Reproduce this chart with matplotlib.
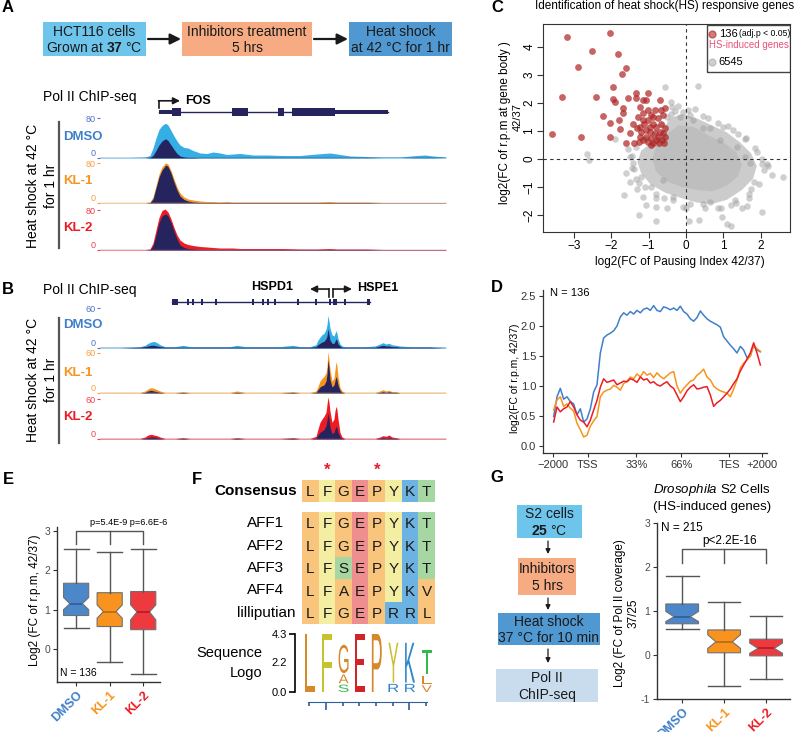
import numpy as np
import matplotlib.pyplot as plt
from matplotlib.patches import Rectangle, PathPatch, Polygon
from matplotlib.textpath import TextPath
from matplotlib.font_manager import FontProperties
from matplotlib.transforms import Affine2D
from matplotlib.lines import Line2D
from matplotlib.colors import to_rgb

plt.rcParams['font.family'] = ['Liberation Sans', 'DejaVu Sans']
plt.rcParams['mathtext.fontset'] = 'custom'
plt.rcParams['mathtext.rm'] = 'Liberation Sans'
plt.rcParams['mathtext.bf'] = 'Liberation Sans:bold'
plt.rcParams['mathtext.it'] = 'Liberation Sans:italic'

# ---------------- data ----------------
conditions = ['DMSO', 'KL-1', 'KL-2']
cond_colors = ['#3F7FCB', '#F7941D', '#ED1C24']
fill_colors = ['#35AEE6', '#F7941D', '#ED1C24']
NAVY = '#25245F'

flow_a = ['HCT116 cells\nGrown at $\\mathbf{37}$ °C', 'Inhibitors treatment\n5 hrs',
          'Heat shock\nat 42 °C for 1 hr']
flow_g = ['S2 cells\n$\\mathbf{25}$ °C', 'Inhibitors\n5 hrs', 'Heat shock\n37 °C for 10 min',
          'Pol II\nChIP-seq']
flow_colors = ['#6DC5EC', '#F6AB83', '#4F98D1', '#C9DCEE']

# FOS locus, Pol II signal (r.p.m), HS 42 °C
fos_pos = [100, 130, 145, 150, 153, 156, 159, 162, 165, 166, 168, 171, 174, 177, 180, 184, 188, 193, 200, 207,
           213, 220, 227, 233, 240, 253, 267, 283, 300, 317, 330, 337, 350, 367, 383, 400, 417, 425, 433, 446]
fos_dmso = [1, 1, 2, 5, 20, 40, 57, 65, 69, 69, 66, 55, 44, 34, 26, 21, 20, 15, 10, 9,
            12, 10, 7, 8, 9, 6, 6, 5, 5, 8, 10, 8, 4, 3, 2, 2, 5, 6, 4, 2]
fos_dmso_ctl = [0, 0, 0, 1, 5, 15, 26, 34, 38, 38, 35, 26, 17, 9, 4, 2, 1, 1, .5, .5,
                .5, .5, .5, .5, .5, .5, .5, .5, .5, .5, .5, .5, .5, .5, 0, 0, .5, .5, .5, 0]
fos_kl1 = [1, 1, 1, 2, 12, 35, 58, 72, 79, 80, 78, 65, 48, 32, 20, 12, 8, 6, 4, 3,
           3, 2, 3, 2, 2, 2, 2, 2, 2, 2, 3, 2, 2, 2, 1, 1, 1, 1, 1, 1]
fos_kl1_ctl = [0, 0, 0, 1, 8, 30, 52, 66, 74, 76, 73, 60, 42, 26, 14, 7, 4, 2, 1, 1,
               1, 1, 1, 1, 1, 1, 1, 1, 1, 1, 1, 1, 1, 1, .5, .5, .5, .5, .5, .5]
fos_kl2 = [1, 1, 1, 2, 14, 40, 65, 79, 82, 80, 76, 62, 45, 30, 20, 14, 11, 9, 7, 6,
           5, 4, 4, 4, 3, 3, 3, 3, 2, 2, 3, 2, 2, 2, 1, 1, 1, 1, 1, 1]
fos_kl2_ctl = [0, 0, 0, 1, 8, 30, 55, 68, 72, 72, 68, 55, 38, 22, 10, 5, 3, 2, 1, 1,
               1, 1, 1, 1, 1, 1, 1, 1, 1, 1, 1, 1, 1, 1, .5, .5, .5, .5, .5, .5]
fos_utr = [(159, 172), (335, 388)]
fos_exons = [(172, 181), (232, 248), (278, 284), (292, 335)]

# HSPD1 / HSPE1 locus
hsp_pos = [100, 120, 140, 145, 148, 151, 154, 157, 160, 165, 175, 183, 190, 210, 230, 237, 245, 260, 280, 293,
           300, 310, 316, 318, 320, 322, 324, 326, 327, 328, 329, 330, 332, 334, 335, 336, 337, 338, 340, 342,
           345, 355, 365, 375, 380, 383, 386, 389, 392, 396, 400, 410, 420, 430, 446]
hsp_dmso = [1, 1, 2, 4, 7, 9, 10, 8, 5, 2, 2, 4, 2, 2, 2, 4, 2, 2, 2, 4,
            2, 2, 5, 12, 16, 20, 22, 28, 35, 49, 40, 30, 20, 18, 22, 26, 22, 14, 6, 3,
            2, 2, 2, 3, 6, 8, 6, 7, 5, 4, 3, 2, 2, 2, 1]
hsp_dmso_ctl = [0, 0, 1, 2, 3, 4, 4, 3, 2, 1, 1, 1, 1, 1, 1, 1, 1, 1, 1, 1,
                1, 1, 2, 5, 7, 9, 10, 14, 18, 29, 20, 12, 7, 7, 10, 14, 11, 6, 3, 1,
                1, 1, 1, 1, 3, 4, 3, 3, 2, 2, 1, 1, 1, 1, 0]
hsp_kl1 = [1, 1, 1, 3, 6, 8, 7, 5, 3, 1, 1, 2, 1, 1, 1, 3, 1, 1, 1, 2,
           1, 1, 3, 10, 18, 22, 25, 30, 40, 62, 50, 35, 18, 22, 35, 47, 40, 25, 8, 3,
           1, 1, 1, 1, 3, 5, 3, 4, 2, 2, 1, 1, 1, 1, 1]
hsp_kl1_ctl = [0, 0, 0, 1, 3, 4, 3, 2, 1, 0, 0, 1, 0, 0, 0, 1, 0, 0, 0, 1,
               0, 0, 1, 5, 9, 11, 12, 18, 28, 50, 38, 20, 9, 12, 18, 25, 20, 12, 4, 1,
               0, 0, 0, 0, 1, 2, 1, 2, 1, 1, 0, 0, 0, 0, 0]
hsp_kl2 = [1, 1, 1, 3, 6, 7, 6, 5, 3, 1, 1, 2, 1, 1, 1, 2, 1, 1, 1, 2,
           1, 1, 4, 15, 25, 30, 34, 40, 52, 63, 55, 42, 25, 30, 42, 49, 44, 30, 10, 3,
           1, 1, 1, 1, 3, 5, 4, 6, 3, 2, 1, 1, 1, 1, 1]
hsp_kl2_ctl = [0, 0, 0, 1, 2, 3, 3, 2, 1, 0, 0, 1, 0, 0, 0, 1, 0, 0, 0, 1,
               0, 0, 1, 6, 10, 12, 14, 20, 28, 39, 30, 18, 8, 10, 15, 19, 16, 10, 3, 1,
               0, 0, 0, 0, 1, 2, 1, 2, 1, 1, 0, 0, 0, 0, 0]
hsp_exons = [(172, 178), (187, 189), (192, 194), (201, 203), (215, 217), (252, 254), (262, 264), (267, 269),
             (274, 276), (297, 299), (315, 317), (329, 331), (333, 337), (344, 346), (367, 370)]

# C: scatter, HS-induced (red) and other genes (grey)
hs_x = [-3.18, -2.03, -2.53, -1.81, -2.88, -1.60, -1.72, -1.95, -3.31, -2.40, -1.96, -1.90, -1.56, -1.33,
        -1.02, -2.22, -2.04, -1.78, -1.69, -1.68, -1.77, -3.59, -2.82, -2.04, -1.60, -1.49, -1.38, -1.32,
        -1.29, -1.24, -1.35, -1.15, -1.06, -1.02, -1.15, -0.93, -0.84, -0.70, -0.66, -0.61, -0.57, -1.24,
        -1.11, -1.02, -0.88, -0.79, -0.66, -0.97, -0.84, -0.70, -0.61, -1.08, -0.93, -0.79, -0.63, -1.02,
        -0.87, -0.72, -0.59, -1.15, -1.24, -1.20, -0.97, -0.75, -0.88, -1.15, -1.06, -0.57, -0.57, -0.75,
        -0.93, -1.26, -1.42]
hs_y = [4.35, 4.51, 3.87, 3.74, 3.27, 3.26, 3.04, 2.56, 2.23, 2.20, 2.13, 2.05, 2.19, 2.37,
        2.35, 1.54, 1.30, 1.39, 1.81, 1.63, 1.06, 0.89, 0.80, 0.80, 0.56, 0.94, 0.56, 1.10,
        1.51, 1.87, 2.17, 2.11, 2.11, 1.75, 1.63, 1.57, 1.75, 2.11, 1.75, 1.57, 1.81, 1.15,
        1.27, 1.39, 1.27, 1.15, 1.25, 0.98, 0.92, 0.98, 0.92, 0.80, 0.74, 0.68, 0.68, 0.62,
        0.58, 0.56, 0.58, 0.68, 0.80, 0.98, 1.15, 1.45, 1.51, 1.39, 1.04, 1.10, 0.80, 0.80,
        0.50, 0.62, 1.27]
bg_x = [-0.55, 0.32, -0.39, -0.09, 0.20, 0.47, 0.65, 1.12, 1.59, 1.91, 2.18, 2.59, 2.03, 1.68, 1.50,
        1.64, 0.96, 1.10, 1.21, 0.36, 0.09, -0.34, -0.81, -1.26, -1.06, -0.79, -1.15, -1.32, -1.51,
        -1.65, -1.38, -1.51, -2.64, -2.59, -1.89, 0.65, 0.45, 0.87, 1.32, 1.82, 1.73, 2.05, 1.59, 1.37,
        0.92, -0.36, -0.52, -0.16, 0.11, -0.79, -0.52, -0.07, -1.42, -1.20, -0.93, -0.61,
        -0.65, -0.30, 0.05, 0.45, 0.85, 1.25, 1.60, 1.85, 2.05, 2.10, 1.95, 1.70, 1.35, 0.95,
        0.50, 0.10, -0.35, -0.80, -1.10, -1.35, -1.45, -1.45, -1.35, -1.10, -0.85, -0.20, 0.60, 1.40,
        2.20, 1.20, -0.60, -1.60, -1.55, 0.25, 1.00, 1.75, 0.00, -1.25, 2.30, -0.40]
bg_y = [2.56, 2.61, 2.05, 1.69, 1.39, 1.12, 1.10, 1.18, 0.70, 0.24, -0.19, -0.65, -1.90, -1.38, -1.76,
        -1.68, -2.06, -2.30, -2.37, -2.18, -2.20, -1.35, -2.21, -1.98, -1.64, -1.40, -1.35, -1.05, -0.81,
        -1.29, -0.37, 0.08, 0.18, -0.04, 0.71, -1.52, -1.61, -1.76, -1.46, -0.81, -0.15, -0.19, 0.08, 0.44,
        0.68, 1.87, 1.51, 1.51, 1.57, -1.70, -1.76, -1.70, -0.15, -0.63, -0.99, -0.75,
        1.20, 1.70, 1.75, 1.55, 1.30, 1.05, 0.75, 0.40, 0.00, -0.40, -0.90, -1.25, -1.55, -1.75,
        -1.75, -1.60, -1.45, -1.25, -1.00, -0.70, -0.30, 0.10, 0.45, 0.70, 0.85, 1.90, 1.45, 0.90,
        -0.25, -1.65, -1.40, -0.50, 0.35, 1.80, 1.15, -1.05, -1.75, -0.85, -0.55, 1.60]
# dense centre of the cloud: outer and inner density contours
cloud_outer_x = [-0.6, -0.45, -0.1, 0.3, 0.7, 1.1, 1.45, 1.75, 1.9, 1.8, 1.5, 1.1, 0.7, 0.3, -0.1, -0.55,
                 -0.95, -1.2, -1.3, -1.2, -0.95]
cloud_outer_y = [1.0, 1.45, 1.6, 1.45, 1.2, 0.95, 0.6, 0.2, -0.25, -0.7, -1.1, -1.45, -1.6, -1.55, -1.4,
                 -1.2, -0.9, -0.5, -0.1, 0.3, 0.55]
cloud_inner_x = [-0.5, -0.2, 0.2, 0.6, 1.0, 1.35, 1.5, 1.4, 1.1, 0.7, 0.3, -0.1, -0.5, -0.8, -0.9, -0.8]
cloud_inner_y = [0.9, 1.2, 1.15, 0.85, 0.6, 0.25, -0.2, -0.6, -0.95, -1.15, -1.1, -1.0, -0.8, -0.45, 0.0,
                 0.45]

# D: metagene profile of log2 FC, bins from -2000 to +2000
prof_x = np.arange(460, 1090, 10)
prof_dmso = [.49, .82, .96, .78, .82, .74, .70, .52, .62, .40, .45, .62, .90, 1.02, 1.55, 1.80, 1.85, 1.88,
             1.92, 2.00, 2.15, 2.22, 2.18, 2.24, 2.20, 2.26, 2.22, 2.28, 2.30, 2.26, 2.34, 2.26, 2.24, 2.32,
             2.30, 2.27, 2.30, 2.26, 2.33, 2.24, 2.20, 2.12, 2.08, 2.14, 2.25, 2.18, 2.12, 2.08, 2.05, 2.02,
             1.98, 1.82, 1.75, 1.68, 1.62, 1.55, 1.66, 1.60, 1.47, 1.50, 1.68, 1.60, 1.57]
prof_kl1 = [.60, .77, .82, .66, .70, .63, .58, .38, .27, .15, .18, .33, .42, .49, .82, .90, .93, .95,
            1.01, .98, .93, 1.04, 1.08, 1.15, 1.12, 1.20, 1.15, 1.24, 1.18, 1.21, 1.14, 1.22, 1.16, 1.12,
            1.17, 1.22, 1.24, 1.00, .88, .96, 1.02, 1.08, 1.10, 1.18, 1.22, 1.28, 1.15, 1.10, 1.00, .95,
            .92, .90, .88, .82, .95, 1.10, 1.30, 1.38, 1.43, 1.50, 1.68, 1.62, 1.58]
prof_kl2 = [.40, .65, .57, .62, .65, .74, .65, .52, .43, .40, .32, .43, .60, .76, .98, 1.12, 1.06, 1.08,
            1.10, 1.02, 1.05, 1.08, 1.07, 1.12, 1.10, 1.06, 1.15, 1.10, 1.12, 1.05, 1.07, 1.02, 1.00, 1.04,
            1.07, 1.00, .96, .85, .74, .82, .92, .98, 1.02, .95, .96, .98, .99, .85, .66, .72,
            .76, .82, .88, .95, 1.04, 1.12, 1.25, 1.35, 1.45, 1.55, 1.72, 1.55, 1.35]
prof_ticks = [458, 562, 708, 843, 987, 1085]
prof_labels = ['\u22122000', 'TSS', '33%', '66%', 'TES', '+2000']

# E: HCT116 box stats
e_lo = [0.53, -0.33, -0.63]
e_q1 = [0.85, 0.57, 0.49]
e_med = [1.15, 0.95, 0.94]
e_q3 = [1.67, 1.43, 1.46]
e_hi = [2.54, 2.47, 2.55]
e_cilo = [1.00, 0.78, 0.74]
e_cihi = [1.31, 1.12, 1.12]

# G: Drosophila S2 box stats
g_lo = [0.58, -0.71, -0.54]
g_q1 = [0.71, 0.05, -0.02]
g_med = [0.87, 0.30, 0.15]
g_q3 = [1.16, 0.57, 0.36]
g_hi = [1.80, 1.21, 0.89]
g_cilo = [0.76, 0.15, 0.04]
g_cihi = [0.99, 0.46, 0.27]

# F: alignment
consensus = 'LFGEPYKT'
seq_names = ['AFF1', 'AFF2', 'AFF3', 'AFF4', 'lilliputian']
seqs = ['LFGEPYKT', 'LFGEPYKT', 'LFSEPYKT', 'LFAEPYKV', 'LFGEPRRL']
starred = [1, 4]
# sequence logo: letters stacked bottom to top, heights in bits
logo_cols = [[('L', 4.3)], [('F', 4.3)], [('S', 0.55), ('A', 0.65), ('G', 2.1)], [('E', 4.3)],
             [('P', 4.3)], [('R', 0.6), ('Y', 2.95)], [('R', 0.6), ('K', 2.95)],
             [('V', 0.5), ('L', 0.6), ('T', 1.8)]]
band_colors = {'L': '#F9C57C', 'G': '#F9C57C', 'P': '#F9C57C', 'A': '#F9C57C', 'V': '#F9C57C',
               'F': '#F4EEA2', 'Y': '#F4EEA2', 'E': '#EE8E8E', 'K': '#6CB2E2', 'R': '#6CB2E2',
               'T': '#A6D6A2', 'S': '#A6D6A2'}
logo_colors = {'L': '#D6892B', 'G': '#D6892B', 'P': '#D6892B', 'A': '#D6892B', 'V': '#D6892B',
               'F': '#C8C22E', 'Y': '#C8C22E', 'E': '#D2232A', 'K': '#2E88C9', 'R': '#2E88C9',
               'T': '#35B84C', 'S': '#35B84C'}

# ---------------- figure ----------------
W, H = 800, 732
fig = plt.figure(figsize=(W / 100, H / 100), dpi=100)
canvas = fig.add_axes([0, 0, 1, 1])
canvas.set_xlim(0, W)
canvas.set_ylim(H, 0)
canvas.axis('off')


def px_axes(x0, y0, x1, y1):
    return fig.add_axes([x0 / W, 1 - y1 / H, (x1 - x0) / W, (y1 - y0) / H])


def flow_box(box, text, color):
    x0, y0, x1, y1 = box
    canvas.add_patch(Rectangle((x0, y0), x1 - x0, y1 - y0, facecolor=color, edgecolor='none'))
    canvas.text((x0 + x1) / 2, (y0 + y1) / 2 + 1, text, ha='center', va='center', fontsize=10,
                color='#1a1a1a', linespacing=1.2)


for lab, x, y in [('A', 8, 8), ('B', 8, 290), ('C', 497, 8), ('D', 497, 288),
                  ('E', 8, 480), ('F', 197, 480), ('G', 497, 478)]:
    canvas.text(x, y, lab, fontsize=12, fontweight='bold', ha='center', va='center')

# ---- A workflow ----
boxes_a = [(43, 22, 146, 56), (182, 22, 312, 56), (349, 22, 452, 56)]
for b, t, c in zip(boxes_a, flow_a, flow_colors):
    flow_box(b, t, c)
for xa, xb in [(148, 181), (314, 348)]:
    canvas.annotate('', xy=(xb, 39), xytext=(xa, 39),
                    arrowprops=dict(arrowstyle='-|>', color='#1a1a1a', lw=1.6, mutation_scale=16,
                                    shrinkA=0, shrinkB=0))


def track(y0, y1, pos, sig, ctl, color, ymax, tick_color, base_color):
    ax = px_axes(100, y0, 446, y1)
    ax.patch.set_alpha(0)
    ax.fill_between(pos, 0, sig, color=color, lw=0, clip_on=False)
    ax.fill_between(pos, 0, ctl, color=NAVY, lw=0, clip_on=False)
    ax.axhline(0, color=base_color, lw=1.0)
    ax.set_xlim(100, 446)
    ax.set_ylim(0, ymax)
    for s in ax.spines.values():
        s.set_visible(False)
    ax.set_xticks([])
    ax.set_yticks([0, ymax])
    ax.set_yticklabels(['0', str(ymax)])
    ax.tick_params(axis='y', length=2.5, width=0.8, color=tick_color, labelcolor=tick_color,
                   labelsize=6.5, pad=1)
    lo_lab, hi_lab = ax.get_yticklabels()
    lo_lab.set_va('bottom')
    hi_lab.set_va('center_baseline')
    return ax


tick_cols = ['#4F72C4', '#F7A040', '#F04050']
base_cols = [NAVY, '#A9A9C8', '#8E6FA8']


def track_block(ys, pos, sigs, ctls, ymax, label_ys, bar, rot_y):
    for (y0, y1), sig, ctl, fc, tc, bc in zip(ys, sigs, ctls, fill_colors, tick_cols, base_cols):
        track(y0, y1, pos, sig, ctl, fc, ymax, tc, bc)
    for name, ly, cc in zip(conditions, label_ys, cond_colors):
        canvas.text(63, ly, name, color=cc, fontsize=9.5, fontweight='bold', va='center')
    canvas.plot([59, 59], bar, color='#555555', lw=1.6)
    canvas.text(42, rot_y, 'Heat shock at 42 °C\nfor 1 hr', rotation=90, ha='center', va='center',
                fontsize=10, linespacing=1.45, multialignment='center')


canvas.text(43, 97, 'Pol II ChIP-seq', fontsize=10, va='center')
track_block([(118, 158), (163, 203), (210, 250)], fos_pos,
            [fos_dmso, fos_kl1, fos_kl2], [fos_dmso_ctl, fos_kl1_ctl, fos_kl2_ctl], 80,
            [137, 181, 228], [122, 248], 186)

ga = px_axes(100, 100, 446, 124)
ga.set_xlim(100, 446)
ga.set_ylim(-1.5, 1.5)
ga.axis('off')
ga.plot([159, 388], [0, 0], color=NAVY, lw=1)
for s, e in fos_utr:
    ga.add_patch(Rectangle((s, -0.23), e - s, 0.46, color=NAVY, lw=0))
for s, e in fos_exons:
    ga.add_patch(Rectangle((s, -0.45), e - s, 0.9, color=NAVY, lw=0))
ga.plot([159, 159], [0.5, 1.4], color='#1a1a1a', lw=1.2, clip_on=False)
ga.annotate('', xy=(180, 1.4), xytext=(158.5, 1.4), annotation_clip=False,
            arrowprops=dict(arrowstyle='-|>', color='#1a1a1a', lw=1.2, mutation_scale=10,
                            shrinkA=0, shrinkB=0))
ga.text(185, 1.4, 'FOS', fontsize=9, fontweight='bold', va='center', clip_on=False)

# ---- B ----
canvas.text(43, 290, 'Pol II ChIP-seq', fontsize=10, va='center')
track_block([(308, 348), (353, 393), (399, 439)], hsp_pos,
            [hsp_dmso, hsp_kl1, hsp_kl2], [hsp_dmso_ctl, hsp_kl1_ctl, hsp_kl2_ctl], 60,
            [325, 373, 417], [318, 443], 380)

gb = px_axes(100, 290, 446, 314)
gb.set_xlim(100, 446)
gb.set_ylim(-1.5, 1.5)
gb.axis('off')
gb.plot([172, 370], [0, 0], color=NAVY, lw=1)
for s, e in hsp_exons:
    gb.add_patch(Rectangle((s, -0.42), e - s, 0.84, color=NAVY, lw=0))
for x0, x1 in [(329, 310), (333, 352)]:
    gb.plot([x0, x0], [0.6, 1.62], color='#1a1a1a', lw=1.2, clip_on=False)
    gb.annotate('', xy=(x1, 1.62), xytext=(x0, 1.62), annotation_clip=False,
                arrowprops=dict(arrowstyle='-|>', color='#1a1a1a', lw=1.2, mutation_scale=10,
                                shrinkA=0, shrinkB=0))
gb.text(272, 1.9, 'HSPD1', fontsize=9, fontweight='bold', ha='center', va='center', clip_on=False)
gb.text(357, 1.75, 'HSPE1', fontsize=9, fontweight='bold', ha='left', va='center', clip_on=False)

# ---- C ----
canvas.text(535, 6, 'Identification of heat shock(HS) responsive genes', fontsize=8.5, va='center')
axc = px_axes(543, 24, 790, 232)
axc.add_patch(Polygon(np.column_stack([cloud_outer_x, cloud_outer_y]), closed=True,
                      facecolor='#CCCCCC', edgecolor='none', zorder=1))
axc.add_patch(Polygon(np.column_stack([cloud_inner_x, cloud_inner_y]), closed=True,
                      facecolor='#BEBEBE', edgecolor='none', zorder=1))
axc.scatter(bg_x, bg_y, s=22, color='#A0A0A0', alpha=0.5, lw=0, zorder=2)
axc.scatter(hs_x, hs_y, s=24, color='#AF2323', alpha=0.7, lw=0, zorder=3)
axc.axvline(0, color='#333333', lw=0.8, ls=(0, (3, 3)), zorder=4)
axc.axhline(0, color='#333333', lw=0.8, ls=(0, (3, 3)), zorder=4)
axc.set_xlim(-3.83, 2.79)
axc.set_ylim(-2.6, 4.82)
axc.set_xticks(range(-3, 3))
axc.set_yticks(range(-2, 5))
axc.tick_params(direction='out', length=4, width=0.8, labelsize=8.5, color='#333333', pad=1.5)
for lab in axc.get_yticklabels():
    lab.set_rotation(90)
    lab.set_va('center')
for s in axc.spines.values():
    s.set_linewidth(0.8)
    s.set_color('#333333')
canvas.text(680, 262, 'log2(FC of Pausing Index 42/37)', fontsize=8.5, ha='center', va='center')
canvas.text(505, 123, 'log2(FC of r.p.m at gene body )', fontsize=8.5, ha='center', va='center',
            rotation=90)
canvas.text(518, 117, '42/37', fontsize=8, ha='center', va='center', rotation=90)
tr = axc.transAxes
axc.add_patch(Rectangle((0.664, 0.77), 0.336, 0.225, transform=tr, facecolor='white',
                        edgecolor='#444444', lw=1, zorder=5))
axc.add_line(Line2D([0.684], [0.952], transform=tr, marker='o', ms=5, color='#AF2323', alpha=0.6,
                    ls='none', zorder=6))
axc.add_line(Line2D([0.684], [0.817], transform=tr, marker='o', ms=5, color='#A0A0A0', alpha=0.5,
                    ls='none', zorder=6))
axc.text(0.712, 0.952, '136', transform=tr, fontsize=8, va='center', zorder=6)
axc.text(0.795, 0.952, '(adj.p < 0.05)', transform=tr, fontsize=6.2, va='center', zorder=6)
axc.text(0.674, 0.90, 'HS-induced genes', transform=tr, fontsize=7, color='#E8537A', va='center',
         zorder=6)
axc.text(0.712, 0.817, '6545', transform=tr, fontsize=8, va='center', zorder=6)

# ---- D ----
axd = px_axes(543, 290, 767, 453)
for prof, c in zip([prof_dmso, prof_kl1, prof_kl2], cond_colors):
    axd.plot(prof_x, prof, color=c, lw=1.1)
axd.set_xlim(428, 1100)
axd.set_ylim(-0.117, 2.6)
axd.set_xticks(prof_ticks)
axd.set_xticklabels(prof_labels)
axd.set_yticks([0, 0.5, 1.0, 1.5, 2.0, 2.5])
axd.set_yticklabels(['0.0', '0.5', '1.0', '1.5', '2.0', '2.5'])
for s in ['top', 'right']:
    axd.spines[s].set_visible(False)
for s in ['left', 'bottom']:
    axd.spines[s].set_color('#333333')
    axd.spines[s].set_linewidth(0.9)
axd.tick_params(labelsize=8, length=3, color='#333333', labelcolor='#333333', pad=2)
axd.text(450, 2.55, 'N = 136', fontsize=8, va='center')
canvas.text(515, 378, 'log2(FC of r.p.m, 42/37)', fontsize=7.5, rotation=90, ha='center', va='center')


# ---- box plots (E, G) ----
def box_panel(ax, lo, q1, med, q3, hi, cilo, cihi, width):
    stats = []
    for i in range(3):
        stats.append(dict(whislo=lo[i], q1=q1[i], med=med[i], q3=q3[i], whishi=hi[i],
                          cilo=cilo[i], cihi=cihi[i], fliers=[]))
    b = ax.bxp(stats, positions=[1, 2, 3], widths=width, capwidths=width, shownotches=True,
               patch_artist=True, showfliers=False, manage_ticks=False,
               boxprops=dict(edgecolor='#707070', linewidth=0.8),
               whiskerprops=dict(color='#555555', linewidth=1),
               capprops=dict(color='#555555', linewidth=1))
    for patch, c in zip(b['boxes'], ['#4B87C9', '#F7931E', '#EE3A3F']):
        patch.set_facecolor(c)
    for m, c in zip(b['medians'], ['#2F5E9A', '#B86A12', '#A82126']):
        m.set_color(c)
        m.set_linewidth(1.2)
    for s in ['top', 'right']:
        ax.spines[s].set_visible(False)
    for s in ['left', 'bottom']:
        ax.spines[s].set_color('#333333')
        ax.spines[s].set_linewidth(1)
    ax.set_xticks([1, 2, 3])
    ax.set_xticklabels(conditions, rotation=45, ha='right', rotation_mode='anchor',
                       fontweight='bold', fontsize=9)
    for lab, c in zip(ax.get_xticklabels(), cond_colors):
        lab.set_color(c)
    ax.tick_params(axis='y', labelsize=7.5, labelcolor='#4D4D4D', color='#333333', length=3, pad=2)
    ax.tick_params(axis='x', color='#333333', length=3, pad=2)


axe = px_axes(57, 527, 160, 682)
box_panel(axe, e_lo, e_q1, e_med, e_q3, e_hi, e_cilo, e_cihi, 0.75)
axe.set_xlim(0.43, 3.5)
axe.set_ylim(-0.84, 3.1)
axe.set_yticks([0, 1, 2, 3])
axe.plot([1, 1, 3, 3], [2.67, 3.0, 3.0, 2.67], color='#555555', lw=1, clip_on=False)
axe.plot([2, 2], [3.0, 2.67], color='#555555', lw=1, clip_on=False)
axe.text(2.55, 3.22, 'p=5.4E-9 p=6.6E-6', fontsize=6.6, ha='center', va='center', clip_on=False)
axe.text(0.03, 0.058, 'N = 136', transform=axe.transAxes, fontsize=7.5, va='center')
canvas.text(35, 600, 'Log2 (FC of r.p.m, 42/37)', fontsize=8.5, rotation=90, ha='center', va='center')

axg = px_axes(657, 523, 790, 699)
box_panel(axg, g_lo, g_q1, g_med, g_q3, g_hi, g_cilo, g_cihi, 0.78)
axg.set_xlim(0.4, 3.57)
axg.set_ylim(-1, 3.0)
axg.set_yticks([-1, 0, 1, 2, 3])
axg.set_yticklabels(['-1', '0', '1', '2', '3'])
axg.plot([1, 1, 3, 3], [2.09, 2.41, 2.41, 2.09], color='#555555', lw=1, clip_on=False)
axg.plot([2, 2], [2.41, 2.09], color='#555555', lw=1, clip_on=False)
axg.text(2.14, 2.58, 'p<2.2E-16', fontsize=8.5, ha='center', va='center')
axg.text(0.03, 0.97, 'N = 215', transform=axg.transAxes, fontsize=8.5, va='center')
canvas.text(620, 613, 'Log2 (FC of Pol II coverage)', fontsize=8.5, rotation=90, ha='center',
            va='center')
canvas.text(634, 613, '37/25', fontsize=8.5, rotation=90, ha='center', va='center')
canvas.text(712, 490, '$\\mathit{Drosophila}$ S2 Cells', fontsize=9.5, ha='center', va='center')
canvas.text(712, 507, '(HS-induced genes)', fontsize=9.5, ha='center', va='center')

# ---- G workflow ----
boxes_g = [(517, 505, 582, 538), (518, 558, 576, 595), (498, 613, 600, 645), (496, 669, 598, 702)]
for b, t, c in zip(boxes_g, flow_g, flow_colors):
    flow_box(b, t, c)
for ya, yb in [(541, 554), (598, 610), (649, 663)]:
    canvas.annotate('', xy=(548, yb), xytext=(548, ya),
                    arrowprops=dict(arrowstyle='-|>', color='#1a1a1a', lw=0.9, mutation_scale=7,
                                    shrinkA=0, shrinkB=0))

# ---- F alignment ----
def residue_rgb(rows):
    return np.array([[to_rgb(band_colors[ch]) for ch in r] for r in rows])


axf1 = px_axes(302, 480, 435, 502)
axf1.imshow(residue_rgb([consensus]), extent=(0, 8, 1, 0), aspect='auto', interpolation='nearest')
axf1.axis('off')
for j, ch in enumerate(consensus):
    axf1.text(j + 0.5, 0.55, ch, ha='center', va='center', fontsize=11, color='#1a1a1a')
for j in starred:
    axf1.text(j + 0.5, -0.45, '*', ha='center', va='center', fontsize=12, color='#E0202A',
              fontweight='bold', clip_on=False)
canvas.text(297, 491, 'Consensus', fontsize=11, fontweight='bold', ha='right', va='center')

axf2 = px_axes(302, 512, 435, 624)
axf2.imshow(residue_rgb(seqs), extent=(0, 8, len(seqs), 0), aspect='auto', interpolation='nearest')
axf2.axis('off')
for i, s in enumerate(seqs):
    for j, ch in enumerate(s):
        axf2.text(j + 0.5, i + 0.55, ch, ha='center', va='center', fontsize=11, color='#1a1a1a')
    canvas.text(266, 512 + 22.4 * (i + 0.5), seq_names[i], fontsize=11, ha='center', va='center')

# sequence logo
axl = px_axes(302, 634, 435, 692)
axl.set_xlim(0, 8)
axl.set_ylim(0, 4.3)
logo_font = FontProperties(family='Liberation Sans')
for j, col in enumerate(logo_cols):
    base = 0.0
    for ch, h in col:
        tp = TextPath((0, 0), ch, size=1, prop=logo_font)
        bb = tp.get_extents()
        t = Affine2D().translate(-bb.x0, -bb.y0).scale(0.6 / bb.width, h / bb.height) \
            .translate(j + 0.2, base)
        axl.add_patch(PathPatch(t.transform_path(tp), facecolor=logo_colors[ch], lw=0,
                                clip_on=False))
        base += h + 0.1
for s in ['top', 'right']:
    axl.spines[s].set_visible(False)
axl.spines['left'].set_position(('outward', 5))
axl.spines['left'].set_linewidth(1.2)
axl.set_yticks([0, 2.2, 4.3])
axl.set_yticklabels(['0.0', '2.2', '4.3'])
axl.tick_params(axis='y', length=4, width=1.2, labelsize=8, pad=2)
axl.yaxis.get_major_ticks()[1].tick1line.set_visible(False)
axl.spines['bottom'].set_position(('outward', 7))
axl.spines['bottom'].set_color('#2F5F9A')
axl.spines['bottom'].set_bounds(0.35, 7.5)
axl.set_xticks([1.45, 6.45])
axl.set_xticks([0.45, 2.45, 3.45, 4.45, 5.45, 7.45], minor=True)
axl.set_xticklabels([])
axl.tick_params(axis='x', which='major', length=6, width=1.2, color='#2F5F9A')
axl.tick_params(axis='x', which='minor', length=3, width=1.2, color='#2F5F9A')
axl.patch.set_alpha(0)
canvas.text(262, 653, 'Sequence', fontsize=10.5, ha='right', va='center')
canvas.text(262, 673, 'Logo', fontsize=10.5, ha='right', va='center')

fig.savefig('out.png', dpi=100)
